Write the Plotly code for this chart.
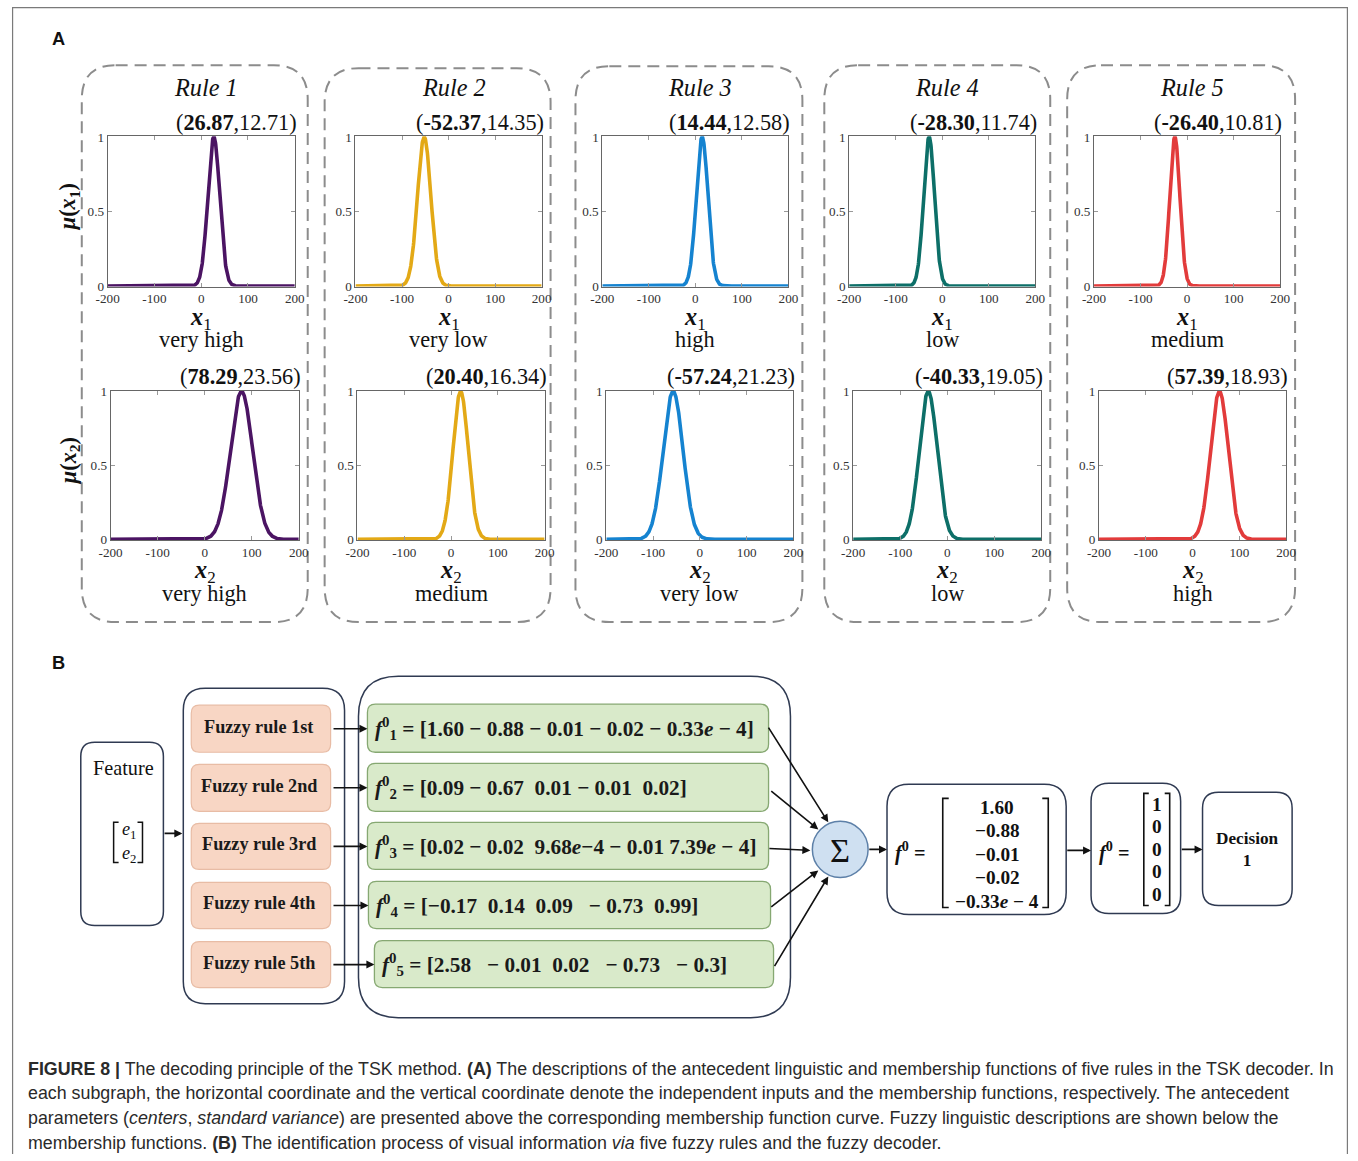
import numpy as np
import plotly.graph_objects as go

W, H = 1358, 1161
# measured placement of the page inside the returned picture (offset, scale);
# layout coordinates below are written in picture pixels and mapped back.
OX, OY, SX, SY = 7.9, 7.9, 0.9884, 0.9864
FS = 2 / (SX + SY)  # font compensation

# ---------------- data ----------------
rule_names = ["Rule 1", "Rule 2", "Rule 3", "Rule 4", "Rule 5"]
x1_centers = [26.87, -52.37, 14.44, -28.30, -26.40]
x1_sigmas = [12.71, 14.35, 12.58, 11.74, 10.81]
x2_centers = [78.29, 20.40, -57.24, -40.33, 57.39]
x2_sigmas = [23.56, 16.34, 21.23, 19.05, 18.93]
x1_terms = ["very high", "very low", "high", "low", "medium"]
x2_terms = ["very high", "medium", "very low", "low", "high"]
rule_colors = ["#4b1463", "#e3a916", "#1583d0", "#0d6f68", "#e23b3b"]
x_tick_vals = [-200, -100, 0, 100, 200]
x_tick_text = ["-200", "-100", "0", "100", "200"]
y_tick_vals = [0, 0.5, 1]
y_tick_text = ["0", "0.5", "1"]

fuzzy_rules = ["Fuzzy rule 1st", "Fuzzy rule 2nd", "Fuzzy rule 3rd", "Fuzzy rule 4th", "Fuzzy rule 5th"]
consequents = [
    "[1.60 − 0.88 − 0.01 − 0.02 − 0.33<i>e</i> − 4]",
    "[0.09 − 0.67\u00a0 0.01 − 0.01\u00a0 0.02]",
    "[0.02 − 0.02\u00a0 9.68<i>e</i>−4 − 0.01 7.39<i>e</i> − 4]",
    "[−0.17\u00a0 0.14\u00a0 0.09\u00a0\u00a0 − 0.73\u00a0 0.99]",
    "[2.58\u00a0\u00a0 − 0.01\u00a0 0.02\u00a0\u00a0 − 0.73\u00a0\u00a0 − 0.3]",
]
f_sum = ["1.60", "−0.88", "−0.01", "−0.02", "−0.33<i>e</i> − 4"]
f_decision = ["1", "0", "0", "0", "0"]
decision_label = "Decision<br>1"

caption_lines = [
    "<b>FIGURE 8 |</b> The decoding principle of the TSK method. <b>(A)</b> The descriptions of the antecedent linguistic and membership functions of five rules in the TSK decoder. In",
    "each subgraph, the horizontal coordinate and the vertical coordinate denote the independent inputs and the membership functions, respectively. The antecedent",
    "parameters (<i>centers</i>, <i>standard variance</i>) are presented above the corresponding membership function curve. Fuzzy linguistic descriptions are shown below the",
    "membership functions. <b>(B)</b> The identification process of visual information <i>via</i> five fuzzy rules and the fuzzy decoder.",
]

SERIF = "Liberation Serif, Times New Roman, serif"
SANS = "Liberation Sans, Arial, sans-serif"


def PX(x):
    return ((x - OX) / SX) / W


def PY(y):
    return 1 - ((y - OY) / SY) / H


def fs(v):
    return round(v * FS, 2)


fig = go.Figure()
annotations = []
shapes = []


def note(x, y, text, size, family=SERIF, color="#111", **kw):
    d = dict(x=PX(x), y=PY(y), xref="paper", yref="paper", text=text, showarrow=False,
             xanchor="center", yanchor="middle", font=dict(family=family, size=fs(size), color=color))
    d.update(kw)
    annotations.append(d)


def arrow(hx, hy, tx, ty):
    annotations.append(dict(x=PX(hx), y=PY(hy), xref="paper", yref="paper",
                            ax=(tx - hx) / SX, ay=(ty - hy) / SY,
                            text="", showarrow=True, arrowhead=2, arrowsize=1, arrowwidth=1.6,
                            arrowcolor="#111", xanchor="center", yanchor="middle"))


# ---------------- Panel A: membership functions ----------------
row_y = [(137, 287), (391, 540)]
col_x = [
    [(104, 292), (353, 540), (601, 788), (849, 1036), (1095, 1282)],
    [(107, 296), (355, 543), (605, 793), (853, 1042), (1100, 1288)],
]
xs = np.linspace(-200, 200, 801)
ax_i = 0
for r in range(2):
    centers = x1_centers if r == 0 else x2_centers
    sigmas = x1_sigmas if r == 0 else x2_sigmas
    terms = x1_terms if r == 0 else x2_terms
    sub = "1" if r == 0 else "2"
    for c in range(5):
        ax_i += 1
        xa = "x" if ax_i == 1 else f"x{ax_i}"
        ya = "y" if ax_i == 1 else f"y{ax_i}"
        xl = "xaxis" if ax_i == 1 else f"xaxis{ax_i}"
        yl = "yaxis" if ax_i == 1 else f"yaxis{ax_i}"
        mu = np.exp(-((xs - centers[c]) ** 2) / (2 * sigmas[c] ** 2))
        fig.add_trace(go.Scatter(x=xs, y=mu, mode="lines", xaxis=xa, yaxis=ya,
                                 line=dict(color=rule_colors[c], width=3.6),
                                 showlegend=False, hoverinfo="skip"))
        x0, x1 = col_x[r][c]
        y0, y1 = row_y[r]
        axis_common = dict(showgrid=False, zeroline=False, showline=True, linecolor="#666",
                           linewidth=1, mirror="ticks", ticks="inside", ticklen=4,
                           tickcolor="#999", tickfont=dict(family=SERIF, size=fs(13), color="#333"))
        fig.layout[xl] = dict(domain=[PX(x0), PX(x1)], range=[-200, 200], anchor=ya,
                              tickvals=x_tick_vals, ticktext=x_tick_text, **axis_common)
        fig.layout[yl] = dict(domain=[PY(y1), PY(y0)], range=[-0.004, 1.004], anchor=xa,
                              tickvals=y_tick_vals, ticktext=y_tick_text, **axis_common)
        cx = (x0 + x1) / 2
        note(x1 + 4, y0 - 14, f"(<b>{centers[c]:.2f}</b>,{sigmas[c]:.2f})", 22, xanchor="right")
        note(cx, y1 + 32, f"<b><i>x</i></b><sub>{sub}</sub>", 24)
        note(cx, y1 + 53, terms[c], 22)
        if r == 0:
            note(cx + 5, 88, f"<i>{rule_names[c]}</i>", 24)

# y labels
for r, sub in enumerate(["1", "2"]):
    y0, y1 = row_y[r]
    note(66, (y0 + y1) / 2 - 5, f"<b><i>μ</i>(<i>x</i><sub>{sub}</sub>)</b>", 22, textangle=-90)


def rrect_path(x0, y0, x1, y1, r):
    pts = [
        ("M", [(x0 + r, y0)]),
        ("L", [(x1 - r, y0)]),
        ("Q", [(x1, y0), (x1, y0 + r)]),
        ("L", [(x1, y1 - r)]),
        ("Q", [(x1, y1), (x1 - r, y1)]),
        ("L", [(x0 + r, y1)]),
        ("Q", [(x0, y1), (x0, y1 - r)]),
        ("L", [(x0, y0 + r)]),
        ("Q", [(x0, y0), (x0 + r, y0)]),
    ]
    s = ""
    for cmd, ps in pts:
        s += cmd + " " + " ".join(f"{PX(px):.6f},{PY(py):.6f}" for px, py in ps) + " "
    return s + "Z"


def poly_path(points):
    return "M " + " L ".join(f"{PX(px):.6f},{PY(py):.6f}" for px, py in points)


def add_path(path, color, width, fill=None, dash=None, layer="above"):
    d = dict(type="path", path=path, xref="paper", yref="paper",
             line=dict(color=color, width=width), layer=layer)
    if dash:
        d["line"]["dash"] = dash
    if fill:
        d["fillcolor"] = fill
    shapes.append(d)


# dashed rule boxes
rule_boxes = [(78, 66, 305, 622), (322, 69, 549, 622), (574, 67, 802, 622),
              (824, 66, 1051, 622), (1068, 66, 1297, 622)]
for (a, b, c, d) in rule_boxes:
    add_path(rrect_path(a, b, c, d, 34), "#8c8c8c", 2, dash="12px,7px", layer="below")

# panel letters
note(46, 39, "<b>A</b>", 18, family="Liberation Sans, Arial", xanchor="left")
note(46, 662, "<b>B</b>", 18, family="Liberation Sans, Arial", xanchor="left")

# ---------------- Panel B: diagram ----------------
DARK = "#2f3a52"
add_path(rrect_path(77, 742, 160, 925, 14), DARK, 1.5, fill="white")
note(120, 768, "Feature", 20)
note(125, 842, "<i>e</i><sub>1</sub><br><i>e</i><sub>2</sub>", 18)
add_path(poly_path([(115, 822), (110, 822), (110, 862), (115, 862)]), "#111", 1.5)
add_path(poly_path([(134, 822), (139, 822), (139, 862), (134, 862)]), "#111", 1.5)

add_path(rrect_path(180, 688, 342, 1003, 22), DARK, 1.5)
add_path(rrect_path(356, 676, 790, 1017, 40), DARK, 1.5)

orange_y = [(705, 752), (764, 811), (823, 869), (882, 928), (941, 987)]
green_x = [(365, 768), (365, 768), (365, 768), (366, 770), (372, 773)]
for i in range(5):
    ya, yb = orange_y[i]
    cy = (ya + yb) / 2
    add_path(rrect_path(188, ya, 328, yb, 8), "#e8bca5", 1.2, fill="#f8d6c4")
    note(256, cy - 2, f"<b>{fuzzy_rules[i]}</b>", 18, color="#1a1a1a")
    gx0, gx1 = green_x[i]
    add_path(rrect_path(gx0, ya - 1, gx1, yb, 8), "#86a872", 1.3, fill="#d9eaca")
    note(gx0 + 6, cy, f"<b><i>f</i><sup>0</sup><sub>{i + 1}</sub> = {consequents[i]}</b>", 21,
         color="#1a1a1a", xanchor="left")
    arrow(gx0, cy, 330, cy)

arrow(179, 833, 160, 833)

shapes.append(dict(type="circle", x0=PX(812), x1=PX(868), y0=PY(877), y1=PY(821), xref="paper",
                   yref="paper", line=dict(color="#5d80a8", width=1.5), fillcolor="#cfe0f1"))
note(840, 850, "Σ", 34)
tails = [(768, 727), (770, 790), (768, 848), (770, 907), (774, 966)]
heads = [(828, 822), (818, 829), (810, 850), (818, 870), (828, 876)]
for (tx, ty), (hx, hy) in zip(tails, heads):
    arrow(hx, hy, tx, ty)

add_path(rrect_path(887, 784, 1067, 914, 22), DARK, 1.5)
note(893, 851, "<b><i>f</i><sup>0</sup> =</b>", 20, xanchor="left")
for k, v in enumerate(f_sum):
    note(998, 807 + k * 23.5, f"<b>{v}</b>", 19)
add_path(poly_path([(949, 798), (943, 798), (943, 907), (949, 907)]), "#111", 1.6)
add_path(poly_path([(1043, 798), (1049, 798), (1049, 907), (1043, 907)]), "#111", 1.6)
arrow(887, 849, 868, 849)

add_path(rrect_path(1092, 783, 1182, 913, 18), DARK, 1.5)
note(1098, 851, "<b><i>f</i><sup>0</sup> =</b>", 20, xanchor="left")
for k, v in enumerate(f_decision):
    note(1158, 804 + k * 22.5, f"<b>{v}</b>", 19)
add_path(poly_path([(1150, 793), (1145, 793), (1145, 905), (1150, 905)]), "#111", 1.6)
add_path(poly_path([(1166, 793), (1171, 793), (1171, 905), (1166, 905)]), "#111", 1.6)
arrow(1092, 850, 1067, 850)

add_path(rrect_path(1204, 792, 1294, 905, 16), DARK, 1.5)
note(1249, 849, f"<b>{decision_label}</b>", 17)
arrow(1204, 849, 1182, 849)

# ---------------- caption ----------------
for k, line in enumerate(caption_lines):
    note(22, 1068 + k * 24.7, line, 17.6, family=SANS, color="#2a2a2a", xanchor="left", align="left")

# outer frame (kept inside the canvas, open at the bottom)
fx0, fx1 = 0.6 / W, 1 - 0.6 / W
fy1 = 1 - 0.6 / H
shapes.append(dict(type="path", path=f"M {fx0},0 L {fx0},{fy1} L {fx1},{fy1} L {fx1},0",
                   xref="paper", yref="paper", line=dict(color="#7a7a7a", width=1.2)))

fig.update_layout(width=W, height=H, margin=dict(l=0, r=0, t=0, b=0),
                  paper_bgcolor="white", plot_bgcolor="white",
                  annotations=annotations, shapes=shapes, showlegend=False)

fig.write_html("out.html")
